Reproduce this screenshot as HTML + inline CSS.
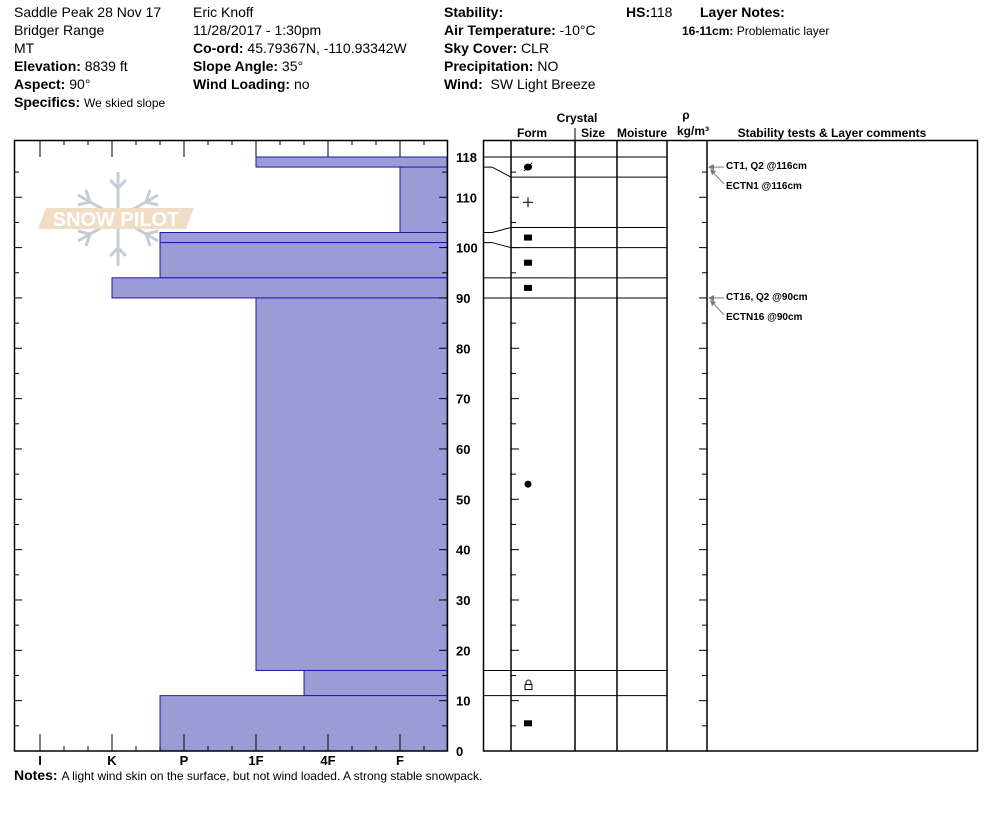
<!DOCTYPE html>
<html><head><meta charset="utf-8">
<style>
body{margin:0;background:#fff;width:994px;height:840px;overflow:hidden;font-family:"Liberation Sans",Arial,sans-serif;}
.t{position:absolute;font-size:14px;color:#000;white-space:nowrap;line-height:18px}
.t b{font-weight:bold}
.s{font-size:12px}
svg{position:absolute;left:0;top:0}
</style></head><body>
<div class="t" style="left:14px;top:3px">Saddle Peak 28 Nov 17</div>
<div class="t" style="left:14px;top:21px">Bridger Range</div>
<div class="t" style="left:14px;top:39px">MT</div>
<div class="t" style="left:14px;top:57px"><b>Elevation:</b> 8839 ft</div>
<div class="t" style="left:14px;top:75px"><b>Aspect:</b> 90°</div>
<div class="t" style="left:14px;top:93px"><b>Specifics:</b> <span class="s">We skied slope</span></div>
<div class="t" style="left:193px;top:3px">Eric Knoff</div>
<div class="t" style="left:193px;top:21px">11/28/2017 - 1:30pm</div>
<div class="t" style="left:193px;top:39px"><b>Co-ord:</b> 45.79367N, -110.93342W</div>
<div class="t" style="left:193px;top:57px"><b>Slope Angle:</b> 35°</div>
<div class="t" style="left:193px;top:75px"><b>Wind Loading:</b> no</div>
<div class="t" style="left:444px;top:3px"><b>Stability:</b></div>
<div class="t" style="left:444px;top:21px"><b>Air Temperature:</b> -10°C</div>
<div class="t" style="left:444px;top:39px"><b>Sky Cover:</b> CLR</div>
<div class="t" style="left:444px;top:57px"><b>Precipitation:</b> NO</div>
<div class="t" style="left:444px;top:75px"><b>Wind:</b>&nbsp; SW Light Breeze</div>
<div class="t" style="left:626px;top:3px"><b>HS:</b>118</div>
<div class="t" style="left:700px;top:3px"><b>Layer Notes:</b></div>
<div class="t s" style="left:682px;top:22px"><b>16-11cm:</b> Problematic layer</div>
<div class="t" style="left:14px;top:766px"><b>Notes:</b> <span class="s">A light wind skin on the surface, but not wind loaded. A strong stable snowpack.</span></div>

<svg id="chart" width="994" height="840">
 <g opacity="0.85">
  <g stroke="#b8c6d0" stroke-width="3" fill="none">
   <line x1="118" y1="172" x2="118" y2="266"/><line x1="78" y1="195" x2="158" y2="241"/><line x1="78" y1="241" x2="158" y2="195"/>
   <polyline points="110,180 118,188 126,180"/><polyline points="110,256 118,248 126,256"/>
   <polyline points="86,190 90,202 78,205"/><polyline points="150,190 146,202 158,205"/>
   <polyline points="86,246 90,234 78,231"/><polyline points="150,246 146,234 158,231"/>
  </g>
  <polygon points="46,208 194,208 186,229 38,229" fill="#efd6bd"/>
  <text x="116" y="226" font-size="20" font-weight="bold" fill="#fff" text-anchor="middle" font-family="Liberation Sans, sans-serif">SNOW PILOT</text>
 </g>
</svg>
<script>
const layerTop=[118,116,103,101,94,90,16,11];
const layerBottom=[116,103,101,94,90,16,11,0];
const hardness=[3,5,1.667,1.667,1,3,3.667,1.667];
const displayBoundaries=[118,114,104,100,94,90,16,11];
const formSymbols=['mfcr','+','sq','sq','sq','dot','lock','sq'];
const formHeights=[116,109,102,97,92,53,13,5.5];
const yTicks=[0,10,20,30,40,50,60,70,80,90,100,110,118];
const hardLabels=['I','K','P','1F','4F','F'];
const stabDepth=[116,116,90,90];
const stabLabels=['CT1, Q2 @116cm','ECTN1 @116cm','CT16, Q2 @90cm','ECTN16 @90cm'];

const NS='http://www.w3.org/2000/svg';
const svg=document.getElementById('chart');
const Y0=751,PX=(751-157)/118;
const y=cm=>Y0-cm*PX;
const hx=h=>40+72*h;
function el(tag,a,parent){const e=document.createElementNS(NS,tag);for(const k in a)e.setAttribute(k,a[k]);(parent||svg).appendChild(e);return e;}
layerTop.forEach((t,i)=>{
 const r=el('rect',{x:hx(hardness[i]),y:y(t),width:447-hx(hardness[i]),height:y(layerBottom[i])-y(t),fill:'#9b9bd6',stroke:'#1a1aa8','stroke-width':1});
 
 
});
el('rect',{x:14.5,y:140.5,width:433,height:610.5,fill:'none',stroke:'#000','stroke-width':1.5});
for(let c=0;c<=118;c+=5){const L=c%10==0?8:5;
 el('line',{x1:14,x2:14+L,y1:y(c),y2:y(c),stroke:'#000'});
 el('line',{x1:447,x2:447-L,y1:y(c),y2:y(c),stroke:'#000'});
 el('line',{x1:511,x2:511+(c%10==0?8:5),y1:y(c),y2:y(c),stroke:'#000'});
 el('line',{x1:707,x2:707-(c%10==0?8:5),y1:y(c),y2:y(c),stroke:'#000'});}
for(let k=0;k<=17;k++){const x=hx(k/3);if(x>447)break;const L=k%3==0?17:5;
 el('line',{x1:x,x2:x,y1:140,y2:140+L,stroke:'#000'});
 el('line',{x1:x,x2:x,y1:751,y2:751-L,stroke:'#000'});}
yTicks.forEach(v=>{const t=el('text',{x:456,y:y(v)+5,'font-size':13,'font-weight':'bold','font-family':'Liberation Sans, sans-serif'});t.textContent=v;
 
 });
hardLabels.forEach((l,i)=>{const t=el('text',{x:hx(i),y:765,'font-size':13,'font-weight':'bold','text-anchor':'middle','font-family':'Liberation Sans, sans-serif'});t.textContent=l;
 
 });
el('rect',{x:483.5,y:140.5,width:494,height:610.5,fill:'none',stroke:'#000','stroke-width':1.5});
[511,575,617,667,707].forEach(x=>el('line',{x1:x,x2:x,y1:140,y2:751,stroke:'#000','stroke-width':1.5}));
el('line',{x1:575,x2:575,y1:128,y2:140,stroke:'#000'});
layerTop.forEach((t,i)=>{const d=displayBoundaries[i];
 el('line',{x1:511,x2:667,y1:y(d),y2:y(d),stroke:'#000'});
 el('polyline',{points:`483,${y(t)} 492,${y(t)} 511,${y(d)}`,fill:'none',stroke:'#000'});});
formSymbols.forEach((s,i)=>{const cx=528,cy=y(formHeights[i]);let g;
 if(s=='sq')g=el('rect',{x:cx-4,y:cy-3,width:8,height:6,fill:'#000'});
 else if(s=='dot')g=el('circle',{cx:cx,cy:cy,r:3.5,fill:'#000'});
 else if(s=='+'){g=el('g',{});el('line',{x1:cx-5,x2:cx+5,y1:cy,y2:cy,stroke:'#000'},g);el('line',{x1:cx,x2:cx,y1:cy-5,y2:cy+5,stroke:'#000'},g);}
 else if(s=='mfcr'){g=el('g',{});el('ellipse',{cx:cx,cy:cy,rx:4,ry:3.5,fill:'#000'},g);el('line',{x1:cx-4,y1:cy+4,x2:cx+4,y2:cy-4,stroke:'#000'},g);}
 else {g=el('g',{});el('rect',{x:cx-3,y:cy-1,width:7,height:5,fill:'none',stroke:'#000'},g);el('path',{d:`M${cx-2},${cy-1} v-2 a2.5,2.5 0 0 1 5,0 v2`,fill:'none',stroke:'#000'},g);}
 
 });
stabDepth.forEach((d,i)=>{const yy=y(d);const first=i%2==0;const ty=first?yy+4:yy+24;
 if(first){el('line',{x1:709,x2:724,y1:yy,y2:yy,stroke:'#777'});el('polygon',{points:`708,${yy} 714,${yy-3} 714,${yy+3}`,fill:'#777'});}
 else{el('line',{x1:711,y1:yy+3,x2:724,y2:yy+17,stroke:'#777'});el('polygon',{points:`710,${yy+2} 716,${yy+4} 712,${yy+8}`,fill:'#777'});}
 const t=el('text',{x:726,y:ty-2,'font-size':10,'font-weight':'bold','font-family':'Liberation Sans, sans-serif'});t.textContent=stabLabels[i];
 
 });
[['Crystal',577,122],['Form',532,137],['Size',593,137],['Moisture',642,137],['ρ',686,119],['kg/m³',693,135],['Stability tests & Layer comments',832,137]].forEach(h=>{
 const t=el('text',{x:h[1],y:h[2],'font-size':12,'font-weight':'bold','text-anchor':'middle','font-family':'Liberation Sans, sans-serif'});t.textContent=h[0];
 
 });
</script>
</body></html>
